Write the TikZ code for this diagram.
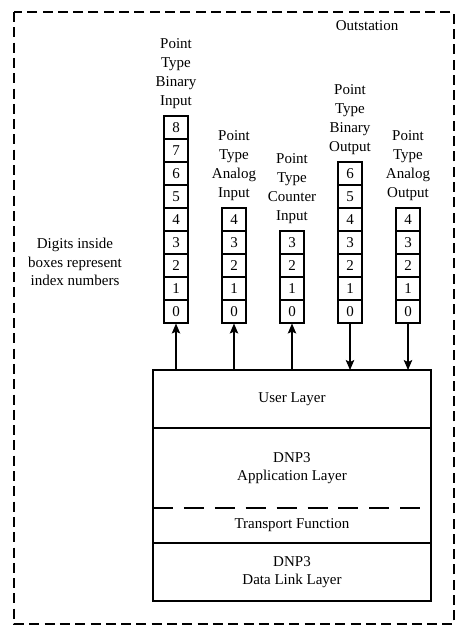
\documentclass[tikz,border=0pt]{standalone}
\usepackage{fontspec}
\setmainfont{Liberation Serif}
\usepackage{tikz}
\usetikzlibrary{arrows.meta,positioning}
\tikzset{
    line style/.style={line width=1.1pt},
    cell/.style={draw,line style,minimum width=24pt,minimum height=23pt,inner sep=0pt},
    layer/.style={minimum width=278pt,inner sep=0pt,outer sep=0pt,align=center},
    type label/.style={align=center,inner sep=0pt},
    arr/.style={->,>={Stealth[length=10pt,width=8.5pt,inset=2pt]},line style},
    frame dash/.style={dash pattern=on 10pt off 5.3pt,line width=1.2pt},
    layer dash/.style={dash pattern=on 20pt off 10.9pt,line style},
}
\tikzstyle{every node}=[font=\fontsize{15}{18.7}\selectfont]

\begin{document}
\begin{tikzpicture}[x=1pt,y=-1pt]
    \useasboundingbox (0,0) rectangle (475,637);
    \draw[frame dash] (14,12) rectangle (454,624);
    \node (outstation) at (367,26) {Outstation};
    \node[type label] (legend) at (75,262) {Digits inside\\boxes represent\\index numbers};
    \foreach \col/\x/\n/\kind in {bi/176/8/Binary\\Input,ai/234/4/Analog\\Input,ci/292/3/Counter\\Input,bo/350/6/Binary\\Output,ao/408/4/Analog\\Output}{
        \foreach \i in {0,...,\n}
            \node[cell] (\col\i) at (\x,{311.5-23*\i}) {\i};
        \node[type label,above=7pt of \col\n] (\col label) {Point\\Type\\\kind};
    }
    \node[layer,draw,line style,minimum height=58pt] (user) at (292,399) {User Layer};
    \node[layer,minimum height=80pt,below=0pt of user] (app) {DNP3\\Application Layer};
    \node[layer,minimum height=35pt,below=0pt of app] (transport) {Transport Function};
    \node[layer,draw,line style,minimum height=58pt,below=0pt of transport] (link) {DNP3\\Data Link Layer};
    \draw[line style] (user.south west) -- (link.north west) (user.south east) -- (link.north east);
    \draw[layer dash] (transport.north west) -- (transport.north east);
    \foreach \col in {bi,ai,ci}
        \draw[arr] (user.north -| \col0) -- (\col0);
    \foreach \col in {bo,ao}
        \draw[arr] (\col0) -- (user.north -| \col0);
\end{tikzpicture}
\end{document}
